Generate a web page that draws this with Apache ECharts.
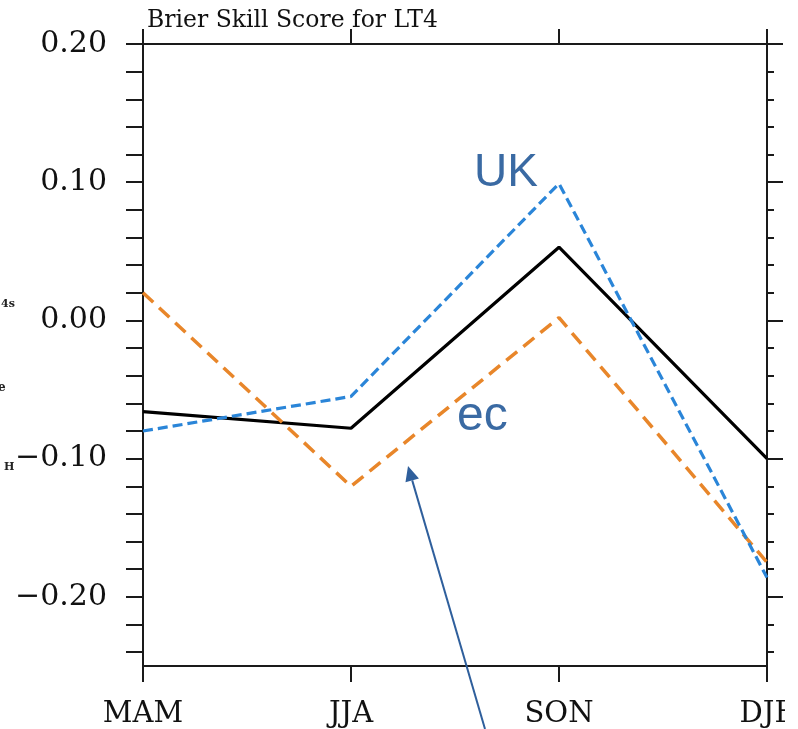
<!DOCTYPE html>
<html>
<head>
<meta charset="utf-8">
<script src="https://cdn.jsdelivr.net/npm/echarts@6/dist/echarts.min.js"></script>
<style>
html,body{margin:0;padding:0;background:#fff;}
#chart{width:798px;height:729px;}
</style>
</head>
<body>
<div id="chart"></div>
<script>
// ---- data ----
const seasons = ['MAM', 'JJA', 'SON', 'DJF'];
const blackLine = [-0.066, -0.078, 0.053, -0.100];
const ukLine = [-0.080, -0.055, 0.099, -0.186];
const ecLine = [0.020, -0.120, 0.002, -0.175];
const yLabelValues = [-0.2, -0.1, 0.0, 0.1, 0.2];
const yMinorValues = [-0.24, -0.22, -0.2, -0.18, -0.16, -0.14, -0.12, -0.1, -0.08, -0.06, -0.04, -0.02, 0,
  0.02, 0.04, 0.06, 0.08, 0.1, 0.12, 0.14, 0.16, 0.18, 0.2];
const titleText = 'Brier Skill Score for LT4';

const AX = '#1a1a1a';
const serif = 'DejaVu Serif';
const fmt = v => (v < -1e-9 ? '\u2212' : '') + Math.abs(v).toFixed(2);

const chart = echarts.init(document.getElementById('chart'), null, {renderer: 'canvas'});

// arrow geometry (annotation)
const tip = [408, 466], tail = [485, 729];
const dx = tip[0] - tail[0], dy = tip[1] - tail[1];
const L = Math.hypot(dx, dy), ux = dx / L, uy = dy / L;
const hl = 15, hw = 7;
const bx = tip[0] - ux * hl, by = tip[1] - uy * hl;
const px = -uy * hw, py = ux * hw;

const option = {
  backgroundColor: '#ffffff',
  animation: false,
  title: {
    text: titleText,
    left: 142, top: 4,
    textStyle: {fontFamily: serif, fontSize: 23.5, fontWeight: 'normal', color: '#111'}
  },
  grid: {left: 143, right: 31, top: 44, bottom: 62, containLabel: false},
  xAxis: [{
    type: 'category', data: seasons, boundaryGap: false, position: 'bottom',
    axisLine: {onZero: false, lineStyle: {color: AX, width: 2}},
    axisTick: {show: true, inside: false, length: 16, lineStyle: {color: AX, width: 2}},
    axisLabel: {fontFamily: serif, fontSize: 29, color: '#111', margin: 34},
    splitLine: {show: false}
  }, {
    type: 'category', data: seasons, boundaryGap: false, position: 'top',
    axisLine: {onZero: false, lineStyle: {color: AX, width: 2}},
    axisTick: {show: true, inside: false, length: 15, lineStyle: {color: AX, width: 2}},
    axisLabel: {show: false},
    splitLine: {show: false}
  }],
  yAxis: [{
    type: 'value', min: -0.25, max: 0.2, position: 'left',
    axisLine: {show: true, onZero: false, lineStyle: {color: AX, width: 2}},
    axisTick: {show: true, inside: false, length: 17, customValues: yMinorValues, lineStyle: {color: AX, width: 2}},
    axisLabel: {customValues: yLabelValues, formatter: fmt, fontFamily: serif, fontSize: 30, color: '#111', margin: 36},
    splitLine: {show: false}
  }, {
    type: 'value', min: -0.25, max: 0.2, position: 'right',
    axisLine: {show: true, onZero: false, lineStyle: {color: AX, width: 2}},
    axisTick: {show: true, inside: false, length: 7, customValues: yMinorValues, lineStyle: {color: AX, width: 2}},
    axisLabel: {show: false},
    splitLine: {show: false}
  }, {
    type: 'value', min: -0.25, max: 0.2, position: 'right',
    axisLine: {show: false, onZero: false},
    axisTick: {show: true, inside: false, length: 16, customValues: yLabelValues, lineStyle: {color: AX, width: 2}},
    axisLabel: {show: false},
    splitLine: {show: false}
  }],
  series: [{
    name: 'mean', type: 'line', data: blackLine, showSymbol: false,
    lineStyle: {color: '#000', width: 3.2, type: 'solid'}, z: 3
  }, {
    name: 'ec', type: 'line', data: ecLine, showSymbol: false,
    lineStyle: {color: '#e8862a', width: 3.5, type: [14, 8]}, z: 4
  }, {
    name: 'UK', type: 'line', data: ukLine, showSymbol: false,
    lineStyle: {color: '#2a85d8', width: 3.2, type: [10, 5]}, z: 5
  }],
  graphic: [
    {type: 'text', left: 474, top: 150, z: 10,
      style: {text: 'UK', font: '46px "Liberation Sans", Arial, sans-serif', fill: '#3a6aa3'}},
    {type: 'text', left: 457, top: 393, z: 10,
      style: {text: 'ec', font: '48px "Liberation Sans", Arial, sans-serif', fill: '#3a6aa3'}},
    {type: 'line', z: 10, shape: {x1: tail[0], y1: tail[1], x2: bx, y2: by},
      style: {stroke: '#2f5f9c', lineWidth: 2}},
    {type: 'polygon', z: 10, shape: {points: [[tip[0], tip[1]], [bx + px, by + py], [bx - px, by - py]]},
      style: {fill: '#2f5f9c'}},
    {type: 'text', left: 1, top: 299, z: 10,
      style: {text: '4s', font: 'bold 11px "DejaVu Serif"', fill: '#222'}},
    {type: 'text', left: -2, top: 382, z: 10,
      style: {text: 'e', font: 'bold 12px "DejaVu Serif"', fill: '#222'}},
    {type: 'text', left: 4, top: 462, z: 10,
      style: {text: 'H', font: 'bold 11px "DejaVu Serif"', fill: '#222'}},
    {type: 'rect', z: 20, shape: {x: 785, y: 690, width: 20, height: 40}, style: {fill: '#fff'}}
  ]
};
chart.setOption(option);
</script>
</body>
</html>
